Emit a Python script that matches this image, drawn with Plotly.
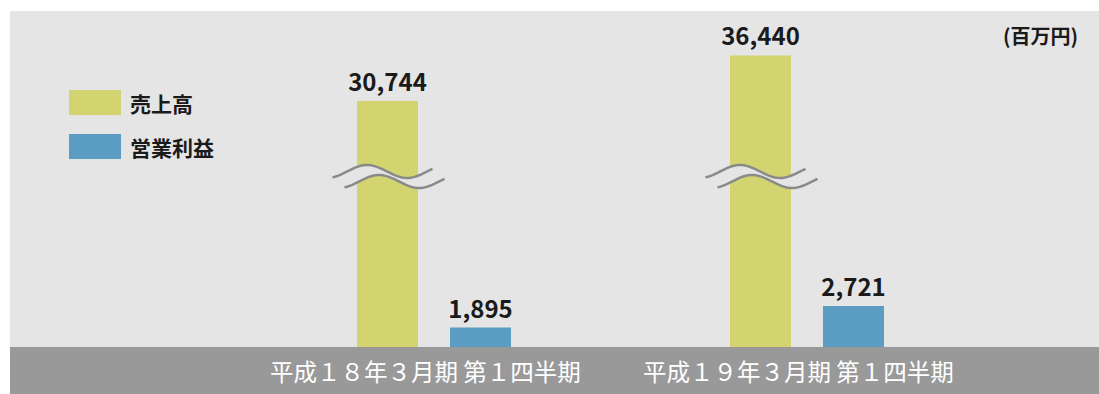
import numpy as np
import plotly.graph_objects as go

# ---- data ----
categories = ["平成１８年３月期 第１四半期", "平成１９年３月期 第１四半期"]
series_names = ["売上高", "営業利益"]
sales = [30744, 36440]
op_profit = [1895, 2721]
unit_label = "(百万円)"

# ---- style ----
YELLOW = "#d2d46f"
BLUE = "#5b9dc2"
BG = "#e5e5e5"
BAND = "#999999"
FONT = "Noto Sans CJK JP"

W, H = 1099, 394
ML, MR, MT, MB = 10, 0, 11, 47
PW, PH = W - ML - MR, H - MT - MB
PX_PER_X = 373.0
X0_PIX = 433.75              # pixel of category index 0
x_range = [-(X0_PIX - ML) / PX_PER_X, (W - MR - X0_PIX) / PX_PER_X]
Y1_MAX = 42000
y2_range = [1146, 14054]

bar_w = 61 / PX_PER_X
off_y = (357 - X0_PIX) / PX_PER_X
off_b = (450 - X0_PIX) / PX_PER_X
xs = list(range(len(categories)))

fig = go.Figure()
fig.add_trace(go.Bar(
    x=xs, y=sales, name=series_names[0], marker=dict(color=YELLOW, line=dict(width=0)),
    width=bar_w, offset=off_y, text=[f"{v:,}" for v in sales], textposition="outside",
    constraintext="none",
    textfont=dict(size=24, color="#1a1a1a", family=FONT, weight="bold"),
    cliponaxis=False, showlegend=False, yaxis="y"))
fig.add_trace(go.Bar(
    x=xs, y=op_profit, name=series_names[1], marker=dict(color=BLUE, line=dict(width=0)),
    width=bar_w, offset=off_b, text=[f"{v:,}" for v in op_profit], textposition="outside",
    constraintext="none",
    textfont=dict(size=24, color="#1a1a1a", family=FONT, weight="bold"),
    cliponaxis=False, showlegend=False, yaxis="y2"))

shapes = []
annotations = []

# bottom band
shapes.append(dict(type="rect", xref="paper", yref="paper", x0=0, x1=1,
                   y0=-MB / PH, y1=0, fillcolor=BAND, line=dict(width=0), layer="above"))

# axis-break waves on the sales bars
def to_data(px, py, i):
    return (px - X0_PIX) / PX_PER_X + i, (MT + PH - py) * Y1_MAX / PH

for i in xs:
    cx = 387.5
    tx = np.linspace(cx - 55, cx + 45, 40)
    ty = 171.5 - 6.5 * np.sin(2 * np.pi * (tx - (cx - 40.5)) / 80)
    bx = tx + 12
    by = ty + 10
    top = [to_data(a, b, i) for a, b in zip(tx, ty)]
    bot = [to_data(a, b, i) for a, b in zip(bx, by)]
    poly = "M " + " L ".join(f"{a:.5f},{b:.2f}" for a, b in top + bot[::-1]) + " Z"
    shapes.append(dict(type="path", xref="x", yref="y", path=poly,
                       fillcolor=BG, line=dict(width=0), layer="above"))
    for pts in (top, bot):
        p = "M " + " L ".join(f"{a:.5f},{b:.2f}" for a, b in pts)
        shapes.append(dict(type="path", xref="x", yref="y", path=p,
                           line=dict(color="#8a8a8a", width=2.5), layer="above"))

# category labels in the band
for i, c in enumerate(categories):
    annotations.append(dict(x=i - 8 / PX_PER_X, y=-24 / PH, xref="x", yref="paper", text=c,
                            showarrow=False, xanchor="center", yanchor="middle",
                            font=dict(size=23.5, color="white", family=FONT)))

# custom legend
sw_colors = [YELLOW, BLUE]
sw_tops = [90, 134]
for name, col, top in zip(series_names, sw_colors, sw_tops):
    shapes.append(dict(type="rect", xref="paper", yref="paper",
                       x0=(69 - ML) / PW, x1=(121 - ML) / PW,
                       y0=(MT + PH - top - 25) / PH, y1=(MT + PH - top) / PH,
                       fillcolor=col, line=dict(width=0)))
    annotations.append(dict(x=(128 - ML) / PW, y=(MT + PH - top - 12.5) / PH,
                            xref="paper", yref="paper", text=name, showarrow=False,
                            xanchor="left", yanchor="middle",
                            font=dict(size=21, color="#1a1a1a", family=FONT, weight="bold")))

# unit label
annotations.append(dict(x=(1080 - ML) / PW, y=(MT + PH - 36) / PH, xref="paper", yref="paper",
                        text=unit_label, showarrow=False, xanchor="right", yanchor="middle",
                        font=dict(size=20, color="#1a1a1a", family=FONT, weight="bold")))

fig.update_layout(
    width=W, height=H,
    margin=dict(l=ML, r=MR, t=MT, b=MB, pad=0),
    paper_bgcolor="white", plot_bgcolor=BG,
    xaxis=dict(range=x_range, showgrid=False, zeroline=False, showticklabels=False,
               ticks="", showline=False, fixedrange=True),
    yaxis=dict(range=[0, Y1_MAX], showgrid=False, zeroline=False, showticklabels=False,
               ticks="", showline=False),
    yaxis2=dict(range=y2_range, overlaying="y", showgrid=False, zeroline=False,
                showticklabels=False, ticks="", showline=False),
    shapes=shapes, annotations=annotations,
    showlegend=False, font=dict(family=FONT),
)

fig.write_html("out.html")
